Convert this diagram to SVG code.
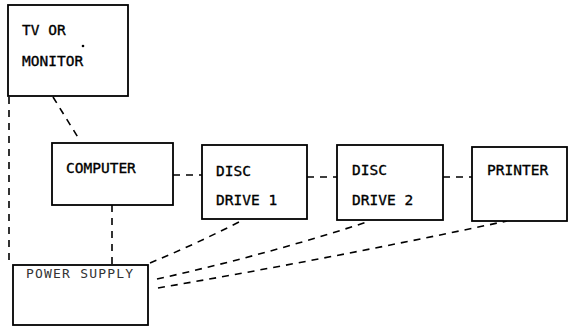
<svg xmlns="http://www.w3.org/2000/svg" width="572" height="327" viewBox="0 0 572 327">
  <style>
    .box { fill: #fff; stroke: #000; stroke-width: 1.8; }
    .lbl { font-family: "DejaVu Sans Mono", "Liberation Mono", monospace; font-size: 14.5px; fill: #000; stroke: #000; stroke-width: 0.35; }
    .small { font-family: "DejaVu Sans Mono", "Liberation Mono", monospace; font-size: 13px; fill: #333; letter-spacing: 1.2px; }
    .dash { fill: none; stroke: #000; stroke-width: 1.6; stroke-dasharray: 7 6; }
  </style>
  <rect width="572" height="327" fill="#fff"/>

  <g id="connectors">
    <path class="dash" d="M9,97 L9,265"/>
    <path class="dash" d="M53,97 L79,139"/>
    <path class="dash" d="M173,175 L202,175"/>
    <path class="dash" d="M307,177 L337,177"/>
    <path class="dash" d="M443,177 L472,177"/>
    <path class="dash" d="M112,205 L112,265"/>
    <path class="dash" d="M150,263 Q196,244 243,220"/>
    <path class="dash" d="M157,279 Q266,255 370,221"/>
    <path class="dash" d="M158,288 Q333,258 507,221"/>
  </g>

  <g id="tv">
    <rect class="box" x="8" y="5" width="120" height="91"/>
    <text class="lbl" x="22" y="35">TV OR</text>
    <text class="lbl" x="22" y="66">MONITOR</text>
    <circle cx="83" cy="46" r="1.3" fill="#000"/>
  </g>

  <g id="computer">
    <rect class="box" x="52" y="143" width="121" height="62"/>
    <text class="lbl" x="66" y="173">COMPUTER</text>
  </g>

  <g id="disc1">
    <rect class="box" x="202" y="145" width="105" height="74"/>
    <text class="lbl" x="216" y="176">DISC</text>
    <text class="lbl" x="216" y="205">DRIVE 1</text>
  </g>

  <g id="disc2">
    <rect class="box" x="337" y="145" width="106" height="75"/>
    <text class="lbl" x="352" y="175">DISC</text>
    <text class="lbl" x="352" y="205">DRIVE 2</text>
  </g>

  <g id="printer">
    <rect class="box" x="472" y="147" width="95" height="74"/>
    <text class="lbl" x="487" y="175">PRINTER</text>
  </g>

  <g id="power">
    <rect class="box" x="13" y="265" width="135" height="60"/>
    <text class="small" x="26" y="278">POWER SUPPLY</text>
  </g>
</svg>
